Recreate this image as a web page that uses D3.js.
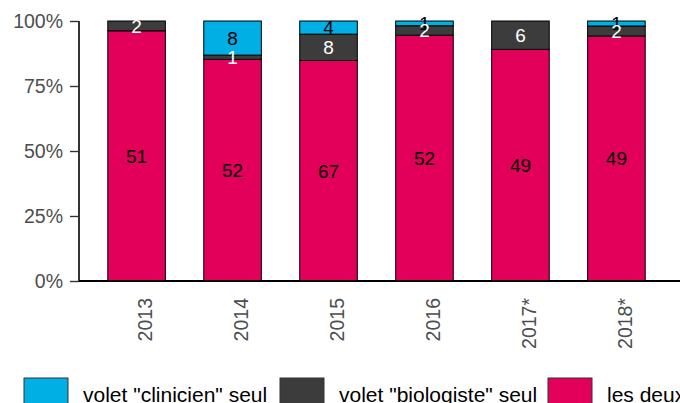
<!DOCTYPE html>
<html>
<head>
<meta charset="utf-8">
<script src="https://cdn.jsdelivr.net/npm/d3@7"></script>
<style>
  body { margin: 0; background: #fff; }
  svg { display: block; font-family: "Liberation Sans", Arial, sans-serif; }
</style>
</head>
<body>
<svg width="680" height="403"></svg>
<script>
const years = ["2013", "2014", "2015", "2016", "2017*", "2018*"];
const clinicien = [0, 8, 4, 1, 0, 1];
const biologiste = [2, 1, 8, 2, 6, 2];
const deux = [51, 52, 67, 52, 49, 49];

const seriesKeys = ["deux", "biologiste", "clinicien"];
const legendLabels = ['volet "clinicien" seul', 'volet "biologiste" seul', "les deux"];
const yTicks = [0, 0.25, 0.5, 0.75, 1];

const colors = { clinicien: "#00afe3", biologiste: "#3c3c3c", deux: "#e2005a" };
const textColors = { clinicien: "#000", biologiste: "#fff", deux: "#000" };

const rows = years.map((yr, i) => {
    const tot = clinicien[i] + biologiste[i] + deux[i];
    return { year: yr, clinicien: clinicien[i] / tot, biologiste: biologiste[i] / tot, deux: deux[i] / tot,
             raw: { clinicien: clinicien[i], biologiste: biologiste[i], deux: deux[i] } };
});

const svg = d3.select("svg");
const mLeft = 79, mRight = 674, mTop = 21, mBottom = 281;

const x = d3.scaleBand().domain(years).range([mLeft, mRight]).paddingInner(0.4).paddingOuter(0.3);
const y = d3.scaleLinear().domain([0, 1]).range([mBottom, mTop]);

const stacked = d3.stack().keys(seriesKeys)(rows);

const layers = svg.append("g").selectAll("g")
    .data(stacked)
    .enter().append("g")
    .attr("fill", d => colors[d.key]);

layers.selectAll("rect")
    .data(d => d.filter(p => p[1] - p[0] > 0))
    .enter().append("rect")
    .attr("x", d => x(d.data.year))
    .attr("width", x.bandwidth())
    .attr("y", d => y(d[1]))
    .attr("height", d => y(d[0]) - y(d[1]))
    .attr("stroke", "#000")
    .attr("stroke-width", 1);

// labels: top segment first, so the "2" lands over the "1" like in the original
stacked.slice().reverse().forEach(layer => {
    svg.append("g").selectAll("text")
        .data(layer.filter(p => p.data.raw[layer.key] > 0))
        .enter().append("text")
        .attr("x", d => x(d.data.year) + x.bandwidth() / 2)
        .attr("y", d => y((d[0] + d[1]) / 2))
        .attr("dy", "0.36em")
        .attr("text-anchor", "middle")
        .attr("font-size", 19)
        .attr("fill", textColors[layer.key])
        .text(d => d.data.raw[layer.key]);
});

// y axis
const yAxis = svg.append("g").attr("transform", `translate(${mLeft},0)`)
    .call(d3.axisLeft(y).tickValues(yTicks).tickFormat(d3.format(".0%")).tickSize(9).tickPadding(7));
yAxis.select(".domain").attr("stroke", "#000").attr("stroke-width", 1.6).attr("d", `M0,${mTop}V${mBottom}`);
yAxis.selectAll(".tick line").attr("stroke", "#333").attr("stroke-width", 1.4);
yAxis.selectAll(".tick text").attr("font-size", 19.5).attr("fill", "#4d4d4d").attr("font-family", null);

// x axis
svg.append("line")
    .attr("x1", mLeft).attr("x2", 680).attr("y1", mBottom).attr("y2", mBottom)
    .attr("stroke", "#000").attr("stroke-width", 1.8);

svg.append("g").selectAll("text")
    .data(years)
    .enter().append("text")
    .attr("transform", d => `translate(${x(d) + x.bandwidth() / 2 + 8.5},298) rotate(-90)`)
    .attr("text-anchor", "end")
    .attr("dy", "0.36em")
    .attr("font-size", 19.5)
    .attr("fill", "#4d4d4d")
    .text(d => d);

// legend (cut by the bottom and right edges, as in the source image)
const legendX = [24, 280, 548];
const legendKeys = ["clinicien", "biologiste", "deux"];
const legend = svg.append("g").selectAll("g")
    .data(legendKeys)
    .enter().append("g")
    .attr("transform", (d, i) => `translate(${legendX[i]},378)`);
legend.append("rect")
    .attr("width", 44).attr("height", 40)
    .attr("fill", d => colors[d])
    .attr("stroke", "#333").attr("stroke-width", 1);
legend.append("text")
    .attr("x", 59).attr("y", 23.5)
    .attr("font-size", 21)
    .attr("fill", "#000")
    .text((d, i) => legendLabels[i]);
</script>
</body>
</html>
